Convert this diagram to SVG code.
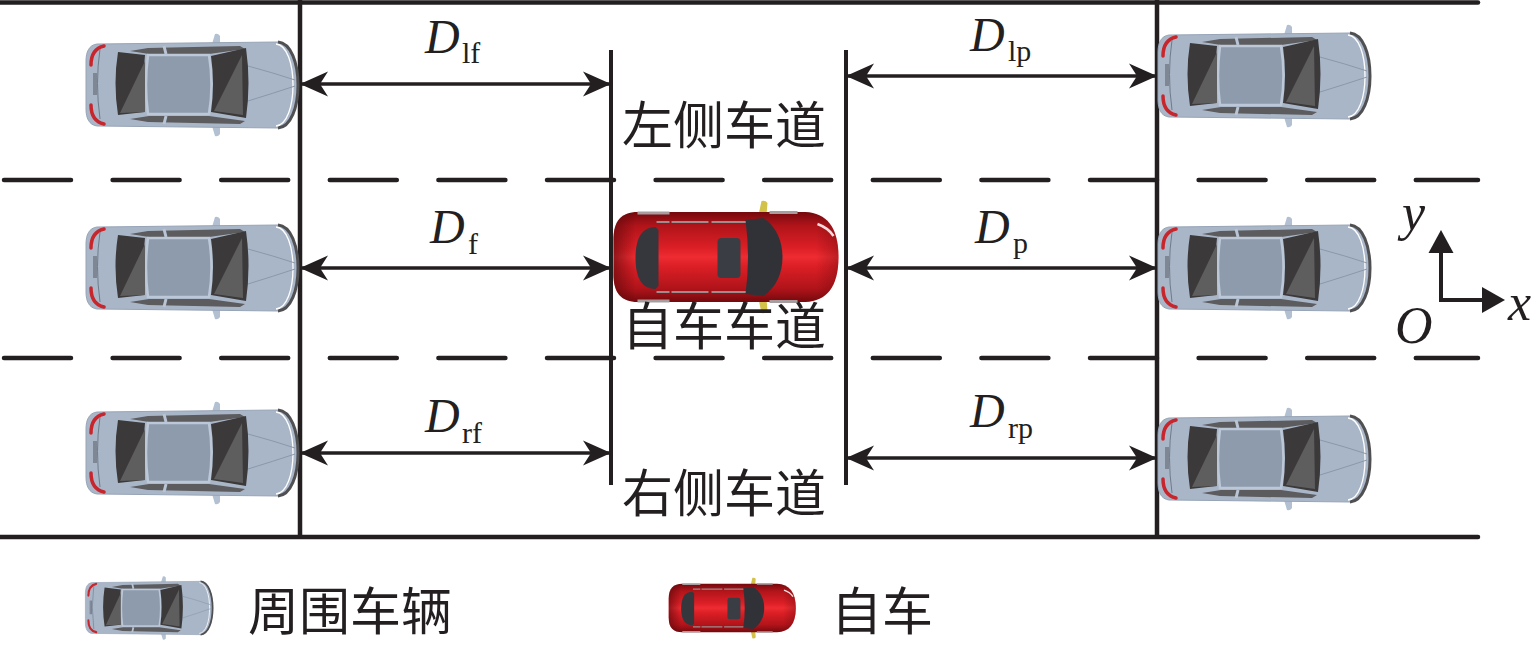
<svg xmlns="http://www.w3.org/2000/svg" xmlns:xlink="http://www.w3.org/1999/xlink" width="1535" height="650" viewBox="0 0 1535 650">
<style>
.road{stroke:#231f20;stroke-width:4.5;fill:none;stroke-linecap:round}
.dash{stroke:#231f20;stroke-width:4.5;fill:none;stroke-linecap:round;stroke-dasharray:67 41.6}
.bar{stroke:#231f20;stroke-width:4;fill:none}
.dim{stroke:#231f20;stroke-width:3.6;fill:none}
.lbl{font-family:"Liberation Serif","Times New Roman",serif;font-style:italic;font-size:48px;fill:#231f20}
.sub{font-family:"Liberation Serif","Times New Roman",serif;font-style:normal;font-size:30px;fill:#231f20}
.cn{font-family:"Noto Sans CJK SC","Noto Sans CJK JP",sans-serif;font-size:51px;fill:#231f20}
.ax{font-family:"Liberation Serif","Times New Roman",serif;font-style:italic;font-size:52px;fill:#231f20}
</style>
<defs>
<marker id="ah" viewBox="0 -13 28 26" refX="28" refY="0" markerWidth="28" markerHeight="26" markerUnits="userSpaceOnUse" orient="auto-start-reverse">
<path d="M28,0 L0,-12.5 L8,0 L0,12.5 Z" fill="#231f20"/>
</marker>
<linearGradient id="red" x1="0" y1="0" x2="0" y2="1">
<stop offset="0" stop-color="#74090d"/>
<stop offset="0.15" stop-color="#b0141a"/>
<stop offset="0.4" stop-color="#dc1f26"/>
<stop offset="0.5" stop-color="#ee2c32"/>
<stop offset="0.6" stop-color="#dc1f26"/>
<stop offset="0.85" stop-color="#b0141a"/>
<stop offset="1" stop-color="#74090d"/>
</linearGradient>
<linearGradient id="redH" x1="0" y1="0" x2="1" y2="0">
<stop offset="0" stop-color="#4a0507" stop-opacity="0.55"/>
<stop offset="0.1" stop-color="#4a0507" stop-opacity="0"/>
<stop offset="0.9" stop-color="#4a0507" stop-opacity="0"/>
<stop offset="1" stop-color="#4a0507" stop-opacity="0.3"/>
</linearGradient>
<g id="grayCar">
<path d="M20,-41 L23,-51 Q26,-52 28,-49 L28,-41 Z" fill="#b3c0d1"/>
<path d="M20,41 L23,51 Q26,52 28,49 L28,41 Z" fill="#b3c0d1"/>
<path d="M-95,-41 C-103,-40 -106,-33 -106,-24 L-106,24 C-106,33 -103,40 -95,41 L86,43 C99,42 106,22 106,0 C106,-22 99,-42 86,-43 Z" fill="#a9b6c8" stroke="#97a4b6" stroke-width="1"/>
<path d="M86,-43 C99,-42 106,-22 106,0 C106,22 99,42 86,43" fill="none" stroke="#505052" stroke-width="3"/>
<path d="M84,-41 C95,-40 101,-21 101,0 C101,21 95,40 84,41" fill="none" stroke="#ffffff" stroke-width="1.3"/>
<path d="M-62,-34 L-44,-37 L48,-39 L53,-36 L17,-31 L-43,-31 Z" fill="#5c5b5d"/>
<path d="M-62,34 L-44,37 L48,39 L53,36 L17,31 L-43,31 Z" fill="#5c5b5d"/>
<path d="M-28,-39 L-26,-31 M-28,39 L-26,31" stroke="#b9c5d4" stroke-width="3"/>
<path d="M-44,-30 L17,-30 Q22,0 17,29 L-44,29 Q-48,0 -44,-30 Z" fill="#8e9bad" stroke="#bcc8d7" stroke-width="2.5"/>
<path d="M-74,-33 Q-79,-2 -74,30 L-47,27 Q-50,-2 -47,-30 Z" fill="#3b393a"/>
<path d="M-72,28 L-47,-24 L-47,27 Z" fill="#5f5e5f"/>
<path d="M19,-29 L54,-37 Q59,-2 54,33 L19,27 Q23,-1 19,-29 Z" fill="#3b393a"/>
<path d="M22,26 L50,-30 L51,30 Z" fill="#5f5e5f"/>
<path d="M56,-19 Q82,-12 103,-5 M56,16 Q82,8 103,1" stroke="#8b98aa" stroke-width="1" fill="none"/>
<path d="M-101,-20 Q-101,-36 -88,-39 M-101,20 Q-101,36 -88,39" stroke="#c8262d" stroke-width="3.5" fill="none" stroke-linecap="round"/>
<path d="M-98,-12 V10 M-96,-12 V10" stroke="#55595f" stroke-width="1"/>
<path d="M-92,-36 Q-97,-2 -92,34" stroke="#6f7b8b" stroke-width="1" fill="none"/>
</g>
<g id="redCar">
<path d="M33,-42 L36,-56 Q40,-57 42,-54 L41,-42 Z" fill="#d3c24a"/>
<path d="M33,42 L36,56 Q40,57 42,54 L41,42 Z" fill="#d3c24a"/>
<path d="M-88,-45 L80,-45 C101,-44 113,-30 113,0 C113,30 101,44 80,45 L-88,45 C-104,45 -112,36 -112,18 L-112,-18 C-112,-36 -104,-45 -88,-45 Z" fill="url(#red)"/>
<path d="M-88,-45 L80,-45 C101,-44 113,-30 113,0 C113,30 101,44 80,45 L-88,45 C-104,45 -112,36 -112,18 L-112,-18 C-112,-36 -104,-45 -88,-45 Z" fill="url(#redH)"/>
<path d="M-88,-44 H-56 M44,-44.5 H72 M-88,44 H-56 M44,44.5 H72" stroke="#a79d9f" stroke-width="3"/>
<path d="M-69,-35 H-56 M-54,-35 H-17 M-14,-35 H31 M-69,35 H-56 M-54,35 H-17 M-14,35 H31" stroke="#9d8c8e" stroke-width="2.2"/>
<path d="M-70,-30 C-84,-30 -90,-18 -90,1 C-90,20 -84,32 -70,32 L-67,29 L-67,-27 Z" fill="#35373d"/>
<rect x="-8" y="-19" width="23" height="40" rx="4" fill="#3a3d44"/>
<path d="M20,-37 L38,-39 C51,-30 57,-16 57,0 C57,16 51,30 38,39 L20,37 Q25,0 20,-37 Z" fill="#303238"/>
<path d="M92,-33 Q103,-29 108,-21" stroke="#ffffff" stroke-width="2.5" fill="none" opacity="0.85"/>
</g>
</defs>

<g id="road">
<path class="road" d="M0,2.5 H1478"/>
<path class="road" d="M0,537 H1478"/>
<path class="dash" d="M4,180 H1478"/>
<path class="dash" d="M4,358 H1478"/>
<path class="road" d="M300,0 V537" style="stroke-linecap:butt"/>
<path class="road" d="M1157,0 V537" style="stroke-linecap:butt"/>
<path class="bar" d="M611,50 V485"/>
<path class="bar" d="M846,50 V485"/>
</g>

<g id="car-lf"><use xlink:href="#grayCar" href="#grayCar" transform="translate(192,85)"/></g>
<g id="car-f"><use xlink:href="#grayCar" href="#grayCar" transform="translate(192,268)"/></g>
<g id="car-rf"><use xlink:href="#grayCar" href="#grayCar" transform="translate(192,453)"/></g>
<g id="car-lp"><use xlink:href="#grayCar" href="#grayCar" transform="translate(1264,76)"/></g>
<g id="car-p"><use xlink:href="#grayCar" href="#grayCar" transform="translate(1264,268)"/></g>
<g id="car-rp"><use xlink:href="#grayCar" href="#grayCar" transform="translate(1264,459)"/></g>
<g id="ego"><use xlink:href="#redCar" href="#redCar" transform="translate(725.5,257)"/></g>

<g id="connectors">
<path class="dim" d="M300,84 H611" marker-start="url(#ah)" marker-end="url(#ah)"/>
<path class="dim" d="M300,268 H611" marker-start="url(#ah)" marker-end="url(#ah)"/>
<path class="dim" d="M300,453 H611" marker-start="url(#ah)" marker-end="url(#ah)"/>
<path class="dim" d="M846,76 H1157" marker-start="url(#ah)" marker-end="url(#ah)"/>
<path class="dim" d="M846,268 H1157" marker-start="url(#ah)" marker-end="url(#ah)"/>
<path class="dim" d="M846,458 H1157" marker-start="url(#ah)" marker-end="url(#ah)"/>
</g>

<g id="label-Dlf"><text class="lbl" x="425" y="53">D</text><text class="sub" x="462" y="63">lf</text></g>
<g id="label-Df"><text class="lbl" x="430" y="243">D</text><text class="sub" x="468" y="254">f</text></g>
<g id="label-Drf"><text class="lbl" x="425" y="432">D</text><text class="sub" x="462" y="443">rf</text></g>
<g id="label-Dlp"><text class="lbl" x="970" y="51">D</text><text class="sub" x="1008" y="61">lp</text></g>
<g id="label-Dp"><text class="lbl" x="975" y="243">D</text><text class="sub" x="1013" y="253">p</text></g>
<g id="label-Drp"><text class="lbl" x="970" y="427">D</text><text class="sub" x="1008" y="438">rp</text></g>

<g id="lane-labels">
<text class="cn" x="724" y="144" text-anchor="middle">左侧车道</text>
<text class="cn" x="724" y="345" text-anchor="middle">自车车道</text>
<text class="cn" x="724" y="512" text-anchor="middle">右侧车道</text>
</g>

<g id="axes">
<polyline points="1441,250 1441,300 1484,300" fill="none" stroke="#231f20" stroke-width="4"/>
<path d="M1441,230 L1453.5,253 L1428.5,253 Z" fill="#231f20"/>
<path d="M1505,300 L1482,287 L1482,313 Z" fill="#231f20"/>
<text class="ax" x="1402" y="230">y</text>
<text class="ax" x="1395" y="343">O</text>
<text class="ax" x="1508" y="320">x</text>
</g>

<g id="legend">
<g id="legend-gray"><use xlink:href="#grayCar" href="#grayCar" transform="translate(149,608) scale(0.6,0.62)"/></g>
<text class="cn" x="350" y="630" text-anchor="middle">周围车辆</text>
<g id="legend-red"><use xlink:href="#redCar" href="#redCar" transform="translate(732,608) scale(0.565,0.54)"/></g>
<text class="cn" x="882" y="630" text-anchor="middle">自车</text>
</g>
</svg>
